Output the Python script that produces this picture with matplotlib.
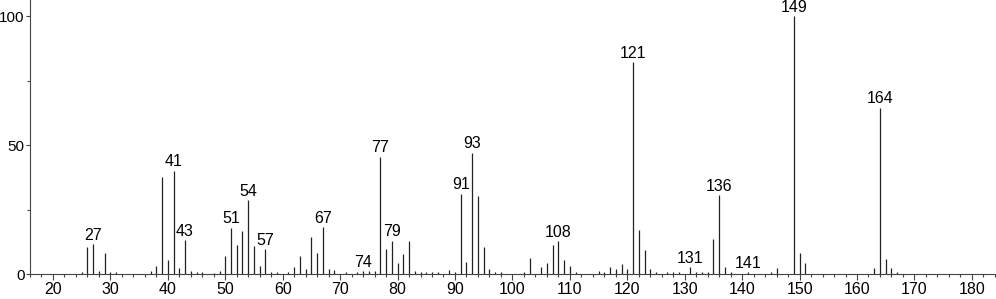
import numpy as np
import matplotlib.pyplot as plt
from matplotlib.ticker import MultipleLocator

plt.rcParams['font.family'] = ['Liberation Sans', 'DejaVu Sans']

# m/z values and relative intensities
mz = [25, 26, 27, 28, 29, 30, 31, 37, 38, 39, 40, 41, 42, 43, 44, 45, 46, 48, 49,
      50, 51, 52, 53, 54, 55, 56, 57, 58, 59, 61, 62, 63, 64, 65, 66, 67, 68, 69,
      71, 73, 74, 75, 76, 77, 78, 79, 80, 81, 82, 83, 84, 85, 86, 87, 89, 90,
      91, 92, 93, 94, 95, 96, 97, 98, 102, 103, 105, 106, 107, 108, 109, 110, 111,
      115, 116, 117, 118, 119, 120, 121, 122, 123, 124, 125, 127, 128, 129,
      131, 132, 133, 134, 135, 136, 137, 138, 141, 145, 146, 149, 150, 151,
      163, 164, 165, 166, 167]
intensity = [0.9, 10.7, 11.7, 1.3, 8.4, 0.9, 0.8, 1.2, 3.2, 37.8, 5.7, 40.2, 2.3, 13.2, 1.4, 0.9, 0.9, 0.6, 1.2,
             7.0, 18.0, 11.4, 16.9, 28.8, 11.0, 3.3, 9.7, 0.8, 0.8, 1.0, 2.8, 7.0, 2.2, 14.5, 8.3, 18.2, 2.1, 1.5,
             0.8, 1.0, 1.3, 1.2, 1.2, 45.6, 9.7, 13.0, 4.3, 7.8, 13.0, 1.3, 0.8, 0.8, 0.8, 0.8, 1.5, 0.8,
             31.3, 4.7, 47.2, 30.4, 10.7, 2.2, 0.9, 0.9, 0.9, 6.2, 2.8, 4.3, 11.3, 12.8, 5.4, 3.1, 0.9,
             1.4, 0.8, 2.7, 2.1, 3.9, 2.2, 82.3, 17.1, 9.3, 2.1, 0.8, 0.8, 0.8, 0.8,
             2.7, 0.8, 0.8, 0.8, 13.6, 30.7, 2.9, 0.8, 0.8, 0.9, 2.3, 100.0, 8.3, 4.4,
             2.3, 64.6, 6.1, 2.3, 1.0]

labeled = [27, 41, 43, 51, 54, 57, 67, 74, 77, 79, 91, 93, 108, 121, 131, 136, 141, 149, 164]

fig = plt.figure(figsize=(9.96, 2.99), dpi=100)
ax = fig.add_axes([0.0301, 0.0826, 0.9699, 0.9174])

ax.vlines(mz, 0, intensity, color='#222222', linewidth=0.9)

peaks = dict(zip(mz, intensity))
for m in labeled:
    ax.annotate(str(m), (m, peaks[m]), xytext=(0, 1), textcoords='offset points',
                ha='center', va='bottom', fontsize=11.5)

ax.set_xlim(16.0, 184.2)
ax.set_ylim(0, 106.3)

ax.xaxis.set_major_locator(MultipleLocator(10))
ax.xaxis.set_minor_locator(MultipleLocator(2))
ax.yaxis.set_major_locator(MultipleLocator(50))
ax.yaxis.set_minor_locator(MultipleLocator(25))
ax.tick_params(axis='both', which='major', length=4, width=0.8, labelsize=11.5, pad=1.5, color='#444444')
ax.tick_params(axis='y', which='major', length=3, labelsize=11, pad=1)
ax.tick_params(axis='both', which='minor', length=2, width=0.8, color='#444444')

for side in ['top', 'right']:
    ax.spines[side].set_visible(False)
for side in ['left', 'bottom']:
    ax.spines[side].set_linewidth(0.8)
    ax.spines[side].set_color('#444444')

fig.savefig('out.png', dpi=100)
